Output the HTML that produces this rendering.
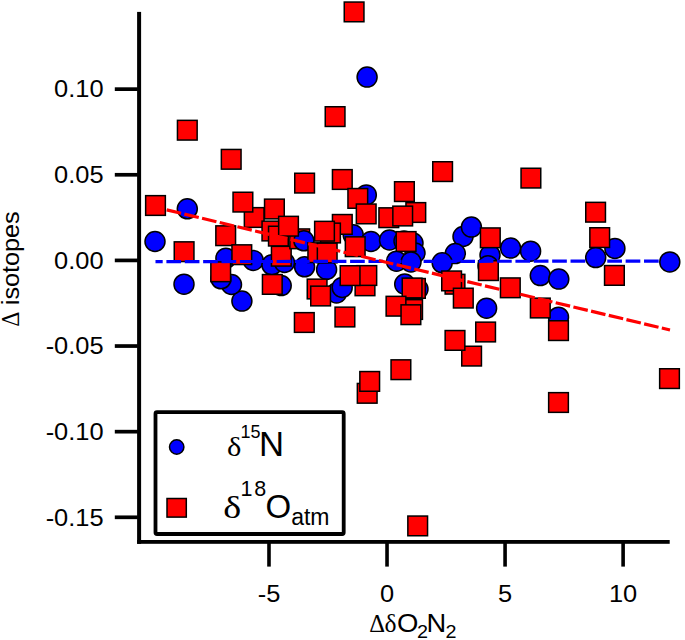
<!DOCTYPE html>
<html><head><meta charset="utf-8"><style>
html,body{margin:0;padding:0;background:#fff;width:685px;height:640px;overflow:hidden}
svg{display:block}
text{font-family:"Liberation Sans",sans-serif;fill:#000}
</style></head><body>
<svg width="685" height="640" viewBox="0 0 685 640">
<rect width="685" height="640" fill="#fff"/>

<g stroke="#000" stroke-width="1.50">
<circle cx="367.1" cy="77.1" r="10.00" fill="#0000ff"/>
<circle cx="187.3" cy="208.8" r="10.00" fill="#0000ff"/>
<circle cx="155.0" cy="241.5" r="10.00" fill="#0000ff"/>
<circle cx="184.0" cy="284.2" r="10.00" fill="#0000ff"/>
<circle cx="241.9" cy="301.1" r="10.00" fill="#0000ff"/>
<circle cx="231.5" cy="284.5" r="10.00" fill="#0000ff"/>
<circle cx="221.0" cy="278.8" r="10.00" fill="#0000ff"/>
<circle cx="225.9" cy="258.2" r="10.00" fill="#0000ff"/>
<circle cx="253.3" cy="260.4" r="10.00" fill="#0000ff"/>
<circle cx="271.9" cy="264.8" r="10.00" fill="#0000ff"/>
<circle cx="281.2" cy="285.6" r="10.00" fill="#0000ff"/>
<circle cx="284.5" cy="262.5" r="10.00" fill="#0000ff"/>
<circle cx="304.6" cy="266.8" r="10.00" fill="#0000ff"/>
<circle cx="326.6" cy="269.5" r="10.00" fill="#0000ff"/>
<circle cx="336.5" cy="293.0" r="10.00" fill="#0000ff"/>
<circle cx="342.2" cy="287.4" r="10.00" fill="#0000ff"/>
<circle cx="366.3" cy="194.9" r="10.00" fill="#0000ff"/>
<circle cx="353.2" cy="234.8" r="10.00" fill="#0000ff"/>
<circle cx="371.0" cy="241.5" r="10.00" fill="#0000ff"/>
<circle cx="389.5" cy="240.0" r="10.00" fill="#0000ff"/>
<circle cx="404.0" cy="241.0" r="10.00" fill="#0000ff"/>
<circle cx="413.0" cy="243.0" r="10.00" fill="#0000ff"/>
<circle cx="415.0" cy="253.0" r="10.00" fill="#0000ff"/>
<circle cx="396.5" cy="261.2" r="10.00" fill="#0000ff"/>
<circle cx="411.0" cy="262.0" r="10.00" fill="#0000ff"/>
<circle cx="404.7" cy="284.1" r="10.00" fill="#0000ff"/>
<circle cx="418.0" cy="289.0" r="10.00" fill="#0000ff"/>
<circle cx="463.0" cy="236.5" r="10.00" fill="#0000ff"/>
<circle cx="471.4" cy="227.1" r="10.00" fill="#0000ff"/>
<circle cx="455.3" cy="253.6" r="10.00" fill="#0000ff"/>
<circle cx="442.2" cy="262.8" r="10.00" fill="#0000ff"/>
<circle cx="490.0" cy="255.0" r="10.00" fill="#0000ff"/>
<circle cx="488.0" cy="265.7" r="10.00" fill="#0000ff"/>
<circle cx="486.6" cy="308.2" r="10.00" fill="#0000ff"/>
<circle cx="510.6" cy="248.1" r="10.00" fill="#0000ff"/>
<circle cx="530.6" cy="251.2" r="10.00" fill="#0000ff"/>
<circle cx="540.3" cy="275.6" r="10.00" fill="#0000ff"/>
<circle cx="558.8" cy="279.1" r="10.00" fill="#0000ff"/>
<circle cx="614.9" cy="248.4" r="10.00" fill="#0000ff"/>
<circle cx="595.7" cy="257.6" r="10.00" fill="#0000ff"/>
<circle cx="669.8" cy="261.9" r="10.00" fill="#0000ff"/>
<circle cx="558.5" cy="317.2" r="10.00" fill="#0000ff"/>
<rect x="344.25" y="2.05" width="19.70" height="19.70" fill="#ff0000"/>
<rect x="325.25" y="106.75" width="19.70" height="19.70" fill="#ff0000"/>
<rect x="177.45" y="120.35" width="19.70" height="19.70" fill="#ff0000"/>
<rect x="221.35" y="149.45" width="19.70" height="19.70" fill="#ff0000"/>
<rect x="145.65" y="195.65" width="19.70" height="19.70" fill="#ff0000"/>
<rect x="174.25" y="241.85" width="19.70" height="19.70" fill="#ff0000"/>
<rect x="215.85" y="225.85" width="19.70" height="19.70" fill="#ff0000"/>
<rect x="244.35" y="207.65" width="19.70" height="19.70" fill="#ff0000"/>
<rect x="233.05" y="192.25" width="19.70" height="19.70" fill="#ff0000"/>
<rect x="264.55" y="199.15" width="19.70" height="19.70" fill="#ff0000"/>
<rect x="262.05" y="221.15" width="19.70" height="19.70" fill="#ff0000"/>
<rect x="268.55" y="226.25" width="19.70" height="19.70" fill="#ff0000"/>
<rect x="231.95" y="244.85" width="19.70" height="19.70" fill="#ff0000"/>
<rect x="294.75" y="173.25" width="19.70" height="19.70" fill="#ff0000"/>
<rect x="332.45" y="169.65" width="19.70" height="19.70" fill="#ff0000"/>
<rect x="347.95" y="188.55" width="19.70" height="19.70" fill="#ff0000"/>
<rect x="332.45" y="214.55" width="19.70" height="19.70" fill="#ff0000"/>
<rect x="356.35" y="204.05" width="19.70" height="19.70" fill="#ff0000"/>
<rect x="378.95" y="207.85" width="19.70" height="19.70" fill="#ff0000"/>
<rect x="394.55" y="181.75" width="19.70" height="19.70" fill="#ff0000"/>
<rect x="405.95" y="202.65" width="19.70" height="19.70" fill="#ff0000"/>
<rect x="392.85" y="206.15" width="19.70" height="19.70" fill="#ff0000"/>
<rect x="432.75" y="161.75" width="19.70" height="19.70" fill="#ff0000"/>
<rect x="521.05" y="168.25" width="19.70" height="19.70" fill="#ff0000"/>
<rect x="585.75" y="202.35" width="19.70" height="19.70" fill="#ff0000"/>
<rect x="589.85" y="227.75" width="19.70" height="19.70" fill="#ff0000"/>
<rect x="604.55" y="265.55" width="19.70" height="19.70" fill="#ff0000"/>
<rect x="659.65" y="368.75" width="19.70" height="19.70" fill="#ff0000"/>
<rect x="548.65" y="392.65" width="19.70" height="19.70" fill="#ff0000"/>
<rect x="548.65" y="320.75" width="19.70" height="19.70" fill="#ff0000"/>
<rect x="530.45" y="298.15" width="19.70" height="19.70" fill="#ff0000"/>
<rect x="500.45" y="277.95" width="19.70" height="19.70" fill="#ff0000"/>
<rect x="407.85" y="516.05" width="19.70" height="19.70" fill="#ff0000"/>
<rect x="391.05" y="359.85" width="19.70" height="19.70" fill="#ff0000"/>
<rect x="357.35" y="383.45" width="19.70" height="19.70" fill="#ff0000"/>
<rect x="359.85" y="371.55" width="19.70" height="19.70" fill="#ff0000"/>
<rect x="461.75" y="346.25" width="19.70" height="19.70" fill="#ff0000"/>
<rect x="445.15" y="330.55" width="19.70" height="19.70" fill="#ff0000"/>
<rect x="475.75" y="322.15" width="19.70" height="19.70" fill="#ff0000"/>
<rect x="210.85" y="261.95" width="19.70" height="19.70" fill="#ff0000"/>
<rect x="262.45" y="274.55" width="19.70" height="19.70" fill="#ff0000"/>
<rect x="294.45" y="312.65" width="19.70" height="19.70" fill="#ff0000"/>
<rect x="271.45" y="246.35" width="19.70" height="19.70" fill="#ff0000"/>
<rect x="320.65" y="223.15" width="19.70" height="19.70" fill="#ff0000"/>
<rect x="345.35" y="236.85" width="19.70" height="19.70" fill="#ff0000"/>
<rect x="355.15" y="275.95" width="19.70" height="19.70" fill="#ff0000"/>
<rect x="356.95" y="265.65" width="19.70" height="19.70" fill="#ff0000"/>
<rect x="340.25" y="265.75" width="19.70" height="19.70" fill="#ff0000"/>
<rect x="307.25" y="279.15" width="19.70" height="19.70" fill="#ff0000"/>
<rect x="310.75" y="286.15" width="19.70" height="19.70" fill="#ff0000"/>
<rect x="335.05" y="307.15" width="19.70" height="19.70" fill="#ff0000"/>
<rect x="480.45" y="227.95" width="19.70" height="19.70" fill="#ff0000"/>
<rect x="478.55" y="260.75" width="19.70" height="19.70" fill="#ff0000"/>
<rect x="289.85" y="228.95" width="19.70" height="19.70" fill="#ff0000"/>
<rect x="396.25" y="231.65" width="19.70" height="19.70" fill="#ff0000"/>
<rect x="405.55" y="278.55" width="19.70" height="19.70" fill="#ff0000"/>
<rect x="402.25" y="278.15" width="19.70" height="19.70" fill="#ff0000"/>
<rect x="402.75" y="299.65" width="19.70" height="19.70" fill="#ff0000"/>
<rect x="386.15" y="296.35" width="19.70" height="19.70" fill="#ff0000"/>
<rect x="401.05" y="304.85" width="19.70" height="19.70" fill="#ff0000"/>
<rect x="445.15" y="274.35" width="19.70" height="19.70" fill="#ff0000"/>
<rect x="441.75" y="271.05" width="19.70" height="19.70" fill="#ff0000"/>
<rect x="453.45" y="288.25" width="19.70" height="19.70" fill="#ff0000"/>
<circle cx="303.9" cy="240.8" r="10.00" fill="#0000ff"/>
<rect x="314.65" y="221.35" width="19.70" height="19.70" fill="#ff0000"/>
<rect x="307.95" y="242.85" width="19.70" height="19.70" fill="#ff0000"/>
<rect x="317.35" y="243.15" width="19.70" height="19.70" fill="#ff0000"/>
<rect x="278.65" y="216.35" width="19.70" height="19.70" fill="#ff0000"/>
</g>
<line x1="155.5" y1="261.6" x2="669.8" y2="261.1" stroke="#0000ff" stroke-width="3.2" stroke-dasharray="14.67 3.7" stroke-dashoffset="7.47"/>
<line x1="155.5" y1="207.19" x2="670" y2="330.00" stroke="#ff0000" stroke-width="3.2" stroke-dasharray="14.78 3.4" stroke-dashoffset="6.68"/>
<rect x="137.1" y="11.9" width="4" height="531.9" fill="#000"/>
<rect x="137.1" y="540" width="532.6" height="3.8" fill="#000"/>
<rect x="114.8" y="87.30" width="23" height="3.7" fill="#000"/>
<rect x="114.8" y="172.93" width="23" height="3.7" fill="#000"/>
<rect x="114.8" y="258.56" width="23" height="3.7" fill="#000"/>
<rect x="114.8" y="344.19" width="23" height="3.7" fill="#000"/>
<rect x="114.8" y="429.82" width="23" height="3.7" fill="#000"/>
<rect x="114.8" y="515.45" width="23" height="3.7" fill="#000"/>
<rect x="267.19" y="541" width="3.6" height="25.6" fill="#000"/>
<rect x="385.23" y="541" width="3.6" height="25.6" fill="#000"/>
<rect x="503.27" y="541" width="3.6" height="25.6" fill="#000"/>
<rect x="621.31" y="541" width="3.6" height="25.6" fill="#000"/>
<text transform="translate(103.6,97.35) scale(1.06,1)" text-anchor="end" font-size="24">0.10</text>
<text transform="translate(103.6,182.98) scale(1.06,1)" text-anchor="end" font-size="24">0.05</text>
<text transform="translate(103.6,268.61) scale(1.06,1)" text-anchor="end" font-size="24">0.00</text>
<text transform="translate(103.6,354.24) scale(1.06,1)" text-anchor="end" font-size="24">-0.05</text>
<text transform="translate(103.6,439.87) scale(1.06,1)" text-anchor="end" font-size="24">-0.10</text>
<text transform="translate(103.6,525.50) scale(1.06,1)" text-anchor="end" font-size="24">-0.15</text>
<text transform="translate(268.99,602.2) scale(1.06,1)" text-anchor="middle" font-size="24">-5</text>
<text transform="translate(387.03,602.2) scale(1.06,1)" text-anchor="middle" font-size="24">0</text>
<text transform="translate(505.07,602.2) scale(1.06,1)" text-anchor="middle" font-size="24">5</text>
<text transform="translate(623.11,602.2) scale(1.06,1)" text-anchor="middle" font-size="24">10</text>
<text transform="translate(369.30,631.50) scale(0.970,1)" font-size="25.30" style="font-family:'Liberation Serif',serif">Δ</text>
<text transform="translate(384.60,631.50) scale(1.030,1)" font-size="24.80" style="font-family:'Liberation Serif',serif">δ</text>
<text transform="translate(396.90,631.50) scale(1.100,1)" font-size="25.00">O</text>
<text transform="translate(417.00,637.60) scale(1.070,1)" font-size="18.50">2</text>
<text transform="translate(426.60,631.50) scale(1.070,1)" font-size="25.50">N</text>
<text transform="translate(445.40,637.60) scale(1.070,1)" font-size="18.50">2</text>
<text transform="translate(18.9,326.65) rotate(-90) scale(0.96,1)" font-size="24.6" style="font-family:'Liberation Serif',serif">Δ</text>
<text transform="translate(19.1,305.2) rotate(-90) scale(1.05,1)" font-size="24">isotopes</text>
<rect x="155.5" y="412.2" width="188.2" height="121.8" fill="#fff" stroke="#000" stroke-width="3.8" rx="1.5"/>
<circle cx="176.7" cy="447" r="7.2" fill="#0000ff" stroke="#000" stroke-width="1.5"/>
<rect x="167" y="498.5" width="19.3" height="18.6" fill="#ff0000" stroke="#000" stroke-width="1.5"/>
<text transform="translate(227.10,455.50) scale(1.150,1)" font-size="26.50" style="font-family:'Liberation Serif',serif">δ</text>
<text font-size="18" x="240.5" y="437.8">15</text>
<text font-size="34.7" x="259.1" y="455.8">N</text>
<text transform="translate(223.30,518.00) scale(1.190,1)" font-size="32.00" style="font-family:'Liberation Serif',serif">δ</text>
<text font-size="21.5" x="240.6" y="495.9" letter-spacing="1.6">18</text>
<text font-size="33" x="265.4" y="517.8">O</text>
<text font-size="23" x="291.2" y="525.3">atm</text>
</svg></body></html>
